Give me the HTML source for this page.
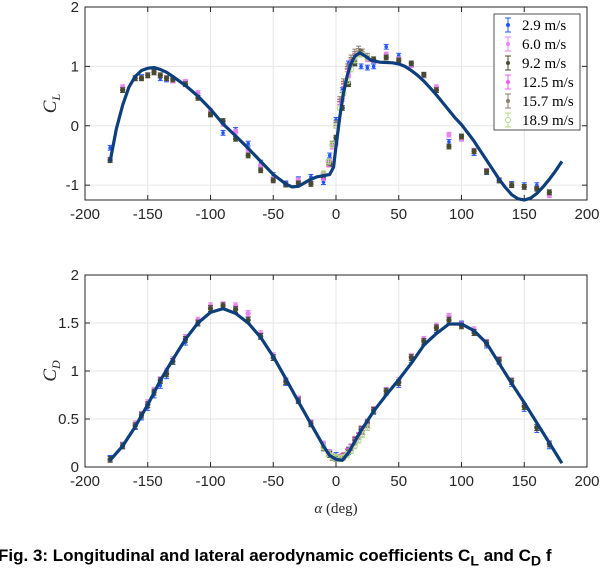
<!DOCTYPE html>
<html><head><meta charset="utf-8"><style>
body{margin:0;width:614px;height:552px;overflow:hidden;background:#fff;position:relative}
svg{position:absolute;left:0;top:0}
.cap{position:absolute;left:-2px;top:546px;font:bold 17px "Liberation Sans",sans-serif;white-space:nowrap;color:#000}
</style></head><body>
<svg id="chart" width="614" height="552" xmlns="http://www.w3.org/2000/svg"></svg>
<div class="cap">Fig. 3: Longitudinal and lateral aerodynamic coefficients C<sub>L</sub> and C<sub>D</sub> f</div>
<script>
const angles=[-180,-170,-160,-155,-150,-145,-140,-135,-130,-120,-110,-100,-90,-80,-70,-60,-50,-40,-30,-20,-10,-5,0,5,10,15,20,25,30,40,50,60,70,80,90,100,110,120,130,140,150,160,170];
const clS29=[-0.37,0.6,0.8,0.82,0.85,0.9,0.8,0.78,0.76,0.72,0.5,0.2,-0.12,-0.07,-0.3,-0.62,-0.83,-0.97,-0.9,-0.86,-0.95,-0.5,0.1,0.6,1.05,1.05,1.0,0.98,1.0,1.33,1.18,1.03,0.85,0.6,-0.27,-0.2,-0.46,-0.78,-0.92,-0.98,-1.0,-1.0,-1.12];
const clS60=[-0.57,0.65,0.8,0.8,0.85,0.92,0.85,0.8,0.76,0.74,0.55,0.25,0.03,-0.1,-0.4,-0.68,-0.9,-0.99,-0.92,-0.95,-0.88,-0.6,-0.3,0.45,0.85,1.1,1.2,1.12,1.1,1.2,1.12,1.02,0.85,0.65,-0.15,-0.22,-0.42,-0.76,-0.92,-1.0,-1.03,-1.06,-1.17];
const clS92=[-0.58,0.6,0.8,0.8,0.85,0.9,0.85,0.8,0.78,0.7,0.47,0.19,0.08,-0.22,-0.5,-0.75,-0.92,-0.99,-0.97,-0.98,-0.85,-0.65,-0.2,0.3,0.7,1.05,1.25,1.15,1.12,1.15,1.1,1.05,0.86,0.6,-0.35,-0.18,-0.43,-0.77,-0.92,-1.0,-1.03,-1.06,-1.12];
const cdS29=[0.09,0.22,0.42,0.52,0.62,0.75,0.85,0.95,1.1,1.3,1.5,1.65,1.67,1.63,1.53,1.37,1.14,0.88,0.7,0.45,0.2,0.14,0.12,0.1,0.16,0.27,0.38,0.45,0.58,0.78,0.86,1.12,1.3,1.43,1.55,1.49,1.4,1.27,1.1,0.87,0.61,0.39,0.22];
const cdS60=[0.08,0.23,0.45,0.55,0.67,0.8,0.91,1.0,1.12,1.35,1.53,1.68,1.69,1.68,1.6,1.39,1.16,0.9,0.71,0.46,0.24,0.15,0.1,0.11,0.18,0.29,0.4,0.47,0.6,0.8,0.9,1.15,1.33,1.47,1.57,1.48,1.43,1.3,1.12,0.9,0.63,0.41,0.24];
const cdS92=[0.08,0.22,0.43,0.54,0.65,0.78,0.9,0.97,1.1,1.33,1.5,1.65,1.68,1.64,1.53,1.36,1.14,0.89,0.69,0.45,0.2,0.13,0.1,0.1,0.17,0.28,0.39,0.46,0.59,0.79,0.88,1.14,1.31,1.45,1.53,1.47,1.4,1.29,1.11,0.89,0.63,0.41,0.24];
const smallAngles=[-10,-6,-3,0,3,6,9,12,15,18,21,25];
const clS125=[-0.85,-0.65,-0.35,0.0,0.4,0.7,0.95,1.1,1.18,1.22,1.2,1.15];
const clS157=[-0.82,-0.62,-0.3,0.05,0.45,0.75,1.0,1.15,1.25,1.3,1.25,1.18];
const clS189=[-0.8,-0.6,-0.32,0.0,0.3,0.55,0.75,0.95,1.1,1.2,1.2,1.15];
const cdS125=[0.22,0.15,0.11,0.1,0.1,0.12,0.16,0.21,0.27,0.33,0.38,0.45];
const cdS157=[0.2,0.14,0.1,0.09,0.09,0.11,0.15,0.2,0.26,0.32,0.37,0.44];
const cdS189=[0.21,0.14,0.11,0.1,0.09,0.1,0.13,0.17,0.22,0.28,0.34,0.41];
const modelAngles=[-180,-175,-170,-165,-160,-155,-150,-145,-140,-135,-130,-120,-110,-100,-90,-80,-70,-60,-50,-40,-35,-30,-25,-20,-15,-10,-5,-2,0,3,6,9,12,15,19,23,28,35,45,50,55,60,65,70,75,80,85,90,95,100,105,110,115,120,125,130,135,140,145,150,155,160,165,170,175,180];
const clModel=[-0.6,-0.05,0.35,0.65,0.83,0.93,0.97,0.98,0.95,0.9,0.83,0.68,0.5,0.28,0.03,-0.17,-0.38,-0.6,-0.82,-0.98,-1.03,-1.02,-0.96,-0.9,-0.86,-0.84,-0.82,-0.7,-0.35,0.15,0.55,0.85,1.05,1.17,1.23,1.18,1.1,1.07,1.06,1.04,1.0,0.93,0.85,0.75,0.64,0.52,0.39,0.26,0.13,0.02,-0.12,-0.26,-0.42,-0.58,-0.74,-0.9,-1.04,-1.16,-1.23,-1.25,-1.22,-1.14,-1.03,-0.9,-0.76,-0.6];
const cdAngles=[-180,-170,-160,-150,-140,-130,-120,-110,-100,-90,-80,-70,-60,-50,-40,-30,-20,-10,-5,0,5,10,20,30,40,50,60,70,80,90,100,110,120,130,140,150,160,170,180];
const cdModel=[0.07,0.22,0.42,0.65,0.9,1.12,1.33,1.5,1.61,1.65,1.6,1.5,1.35,1.15,0.92,0.68,0.45,0.22,0.12,0.08,0.07,0.15,0.38,0.58,0.75,0.91,1.08,1.27,1.39,1.49,1.49,1.42,1.29,1.08,0.87,0.67,0.46,0.25,0.04];
const xTicks=[-200,-150,-100,-50,0,50,100,150,200];
const clTicks=[-1,0,1,2];
const cdTicks=[0,0.5,1,1.5,2];
const legendLabels=["2.9 m/s","6.0 m/s","9.2 m/s","12.5 m/s","15.7 m/s","18.9 m/s"];

const NS="http://www.w3.org/2000/svg";
const svg=document.getElementById('chart');
function mk(t,a,p){const e=document.createElementNS(NS,t);for(const k in a)e.setAttribute(k,a[k]);(p||svg).appendChild(e);return e;}
const L=85,R=587;
const X=a=>L+(a+200)/400*(R-L);
const pTop={t:7,b:200,min:-1.25,max:2}, pBot={t:275,b:467,min:0,max:2};
const Y=(p,v)=>p.b-(v-p.min)/(p.max-p.min)*(p.b-p.t);
const colors=["#2255ff","#e884f2","#474a2c","#ef5cf0","#8c7c6a","#b6d88e"];

function axes(p,yt,name,ylab){
  const g=mk('g',{});
  
  
  xTicks.forEach(t=>{const x=X(t);
    const gl=mk('line',{x1:x,x2:x,y1:p.t,y2:p.b,stroke:'#e6e6e6','stroke-width':1},g);
    
    
    mk('line',{x1:x,x2:x,y1:p.b,y2:p.b-5,stroke:'#262626'},g);mk('line',{x1:x,x2:x,y1:p.t,y2:p.t+5,stroke:'#262626'},g);
    const tx=mk('text',{x:x,y:p.b+19,'text-anchor':'middle','font-size':15,'font-family':'Liberation Sans, sans-serif',fill:'#262626'},g);
    tx.textContent=t;
    
    });
  yt.forEach(t=>{const y=Y(p,t);
    const gl=mk('line',{x1:L,x2:R,y1:y,y2:y,stroke:'#e6e6e6'},g);
    
    
    mk('line',{x1:L,x2:L+5,y1:y,y2:y,stroke:'#262626'},g);mk('line',{x1:R,x2:R-5,y1:y,y2:y,stroke:'#262626'},g);
    const tx=mk('text',{x:L-6,y:y+5,'text-anchor':'end','font-size':15,'font-family':'Liberation Sans, sans-serif',fill:'#262626'},g);
    tx.textContent=t;
    
    });
  const fr=mk('rect',{x:L,y:p.t,width:R-L,height:p.b-p.t,fill:'none',stroke:'#262626'},g);
  
  
  const cy=(p.t+p.b)/2;
  const yl=mk('text',{x:0,y:0,transform:`translate(56,${cy}) rotate(-90)`,'text-anchor':'middle','font-size':19,'font-style':'italic','font-family':'Liberation Serif, serif',fill:'#262626'},g);
  yl.innerHTML=`C<tspan font-size="12" dy="4">${ylab}</tspan>`;
  
  
}
axes(pTop,clTicks,'cl','L');axes(pBot,cdTicks,'cd','D');

function curve(p,as,vs,name){
  let d='';as.forEach((a,i)=>{d+=(i?'L':'M')+X(a).toFixed(1)+','+Y(p,vs[i]).toFixed(1);});
  const c=mk('path',{d:d,fill:'none',stroke:'#0d3f7c','stroke-width':3.2,'stroke-linejoin':'round'});
  
  
}
function pts(p,as,vs,ci,name,err){
  const g=mk('g',{});
  
  
  const c=colors[ci];
  as.forEach((a,i)=>{const x=X(a),y=Y(p,vs[i]);const e=err*(p.b-p.t)/(p.max-p.min);
    mk('line',{x1:x,x2:x,y1:y-e,y2:y+e,stroke:c,'stroke-width':1},g);
    mk('line',{x1:x-2.5,x2:x+2.5,y1:y-e,y2:y-e,stroke:c},g);
    mk('line',{x1:x-2.5,x2:x+2.5,y1:y+e,y2:y+e,stroke:c},g);
    if(ci==5)mk('circle',{cx:x,cy:y,r:2.5,fill:'none',stroke:c},g);
    else if(ci==3||ci==4){mk('line',{x1:x-2.5,x2:x+2.5,y1:y,y2:y,stroke:c},g);}
    else mk('circle',{cx:x,cy:y,r:ci==0?1.8:2.6,fill:c},g);
  });
}
[[clS29,0],[clS60,1],[clS92,2]].forEach(([v,c])=>pts(pTop,angles,v,c,'cl-points-'+legendLabels[c].replace(/[ \/.]/g,''),0.04));
[[clS125,3],[clS157,4],[clS189,5]].forEach(([v,c])=>pts(pTop,smallAngles,v,c,'cl-points-'+legendLabels[c].replace(/[ \/.]/g,''),0.04));
[[cdS29,0],[cdS60,1],[cdS92,2]].forEach(([v,c])=>pts(pBot,angles,v,c,'cd-points-'+legendLabels[c].replace(/[ \/.]/g,''),0.03));
[[cdS125,3],[cdS157,4],[cdS189,5]].forEach(([v,c])=>pts(pBot,smallAngles,v,c,'cd-points-'+legendLabels[c].replace(/[ \/.]/g,''),0.03));
curve(pTop,modelAngles,clModel,'cl-model-curve');
curve(pBot,cdAngles,cdModel,'cd-model-curve');

const lg=mk('g',{});


mk('rect',{x:494,y:14,width:86,height:116,fill:'#fff',stroke:'#262626','stroke-width':0.8},lg);
legendLabels.forEach((s,i)=>{const y=25+i*19;const c=colors[i];
  const en=mk('g',{},lg);
  
  
  mk('line',{x1:508,x2:508,y1:y-7,y2:y+7,stroke:c},en);
  mk('line',{x1:505,x2:511,y1:y-7,y2:y-7,stroke:c},en);mk('line',{x1:505,x2:511,y1:y+7,y2:y+7,stroke:c},en);
  if(i==5)mk('circle',{cx:508,cy:y,r:2.5,fill:'#fff',stroke:c},en);else mk('circle',{cx:508,cy:y,r:2,fill:c},en);
  const t=mk('text',{x:522,y:y+5,'font-size':15,'font-family':'Liberation Serif, serif',fill:'#000'},en);t.textContent=s;
});
const xl=mk('text',{x:336,y:513,'text-anchor':'middle','font-size':15,'font-family':'Liberation Serif, serif',fill:'#262626'});
xl.innerHTML='<tspan font-style="italic">α</tspan> (deg)';


</script>
</body></html>
